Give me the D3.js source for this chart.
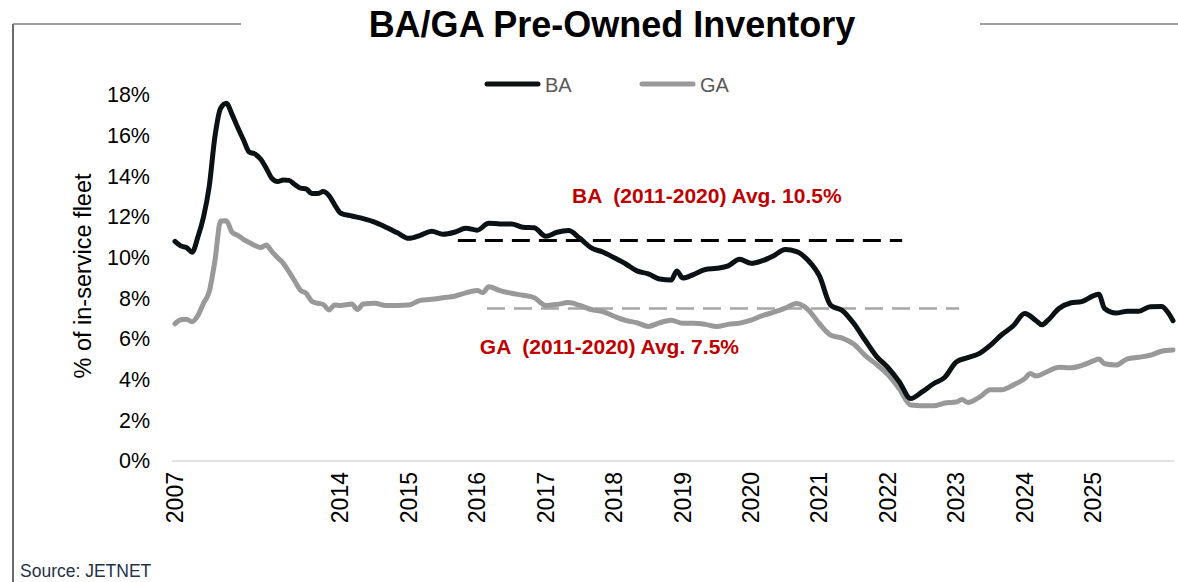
<!DOCTYPE html>
<html>
<head>
<meta charset="utf-8">
<script src="https://cdn.jsdelivr.net/npm/d3@7"></script>
<style>
  body { margin: 0; background: #fff; }
  svg { display: block; font-family: "Liberation Sans", Arial, sans-serif; }
</style>
</head>
<body>
<svg id="chart" width="1178" height="582"></svg>
<script>
// x is a category slot: 29 early points (2007-2013), then monthly from Jan 2014
const tickLabels = ["2007", "2014", "2015", "2016", "2017", "2018", "2019", "2020", "2021", "2022", "2023", "2024", "2025"];
const tickSlots = [0, 29, 41, 53, 65, 77, 89, 101, 113, 125, 137, 149, 161];
const yTicks = [0, 2, 4, 6, 8, 10, 12, 14, 16, 18];

const baSlots = [0,1,2,3,4,5,6,7,8,9,10,11,12,13,14,15,16,17,18,19,20,21,22,23,24,25,26,27,28,
  29,31,33,35,37,39,41,43,45,47,49,51,53,55,57,59,61,63,65,67,69,71,73,75,77,79,81,83,85,87,88,89,
  91,93,95,97,99,101,103,105,107,109,111,113,115,117,119,121,123,125,127,129,131,133,135,137,139,
  141,143,145,147,149,151,152,153,155,157,159,161,162,163,165,167,169,171,173,174,175];
const baValues = [10.8,10.58,10.5,10.27,11.0,12.0,13.5,15.95,17.35,17.6,17.05,16.4,15.8,15.2,15.1,14.85,14.4,13.9,13.74,13.82,13.8,13.6,13.42,13.38,13.15,13.15,13.25,13.05,12.6,
  12.2,12.05,11.92,11.75,11.5,11.22,10.95,11.1,11.3,11.15,11.25,11.45,11.35,11.69,11.66,11.66,11.5,11.47,11.05,11.25,11.33,10.95,10.48,10.28,10.0,9.7,9.35,9.2,8.95,8.9,9.35,9.0,
  9.18,9.42,9.48,9.6,9.92,9.72,9.85,10.1,10.4,10.3,9.87,9.1,7.65,7.4,6.77,5.95,5.15,4.6,3.9,3.07,3.4,3.8,4.12,4.87,5.08,
  5.28,5.7,6.22,6.65,7.25,6.9,6.7,6.9,7.5,7.77,7.84,8.12,8.2,7.5,7.28,7.37,7.37,7.59,7.6,7.35,6.9];

const gaSlots = [0,1,2,3,4,5,6,7,8,9,10,11,12,13,14,15,16,17,18,19,20,21,22,23,24,25,26,27,28,
  29,31,32,33,35,37,39,41,43,45,47,49,51,53,54,55,57,59,61,63,65,67,69,71,73,75,77,79,81,83,85,87,89,
  91,93,95,97,99,101,103,105,107,109,111,113,115,117,119,121,123,125,127,129,131,133,135,137,138,139,
  141,143,145,147,149,150,151,153,155,157,159,161,162,163,165,167,169,171,173,175];
const gaValues = [6.75,6.95,6.97,6.85,7.15,7.76,8.33,9.85,11.8,11.82,11.25,11.1,10.9,10.75,10.6,10.5,10.62,10.3,10.0,9.72,9.3,8.85,8.4,8.25,7.85,7.76,7.7,7.43,7.67,
  7.65,7.72,7.45,7.72,7.76,7.65,7.65,7.67,7.9,7.95,8.03,8.1,8.27,8.38,8.28,8.57,8.38,8.25,8.15,8.03,7.65,7.7,7.79,7.65,7.45,7.35,7.12,6.92,6.8,6.62,6.8,6.92,6.78,
  6.78,6.72,6.61,6.72,6.78,6.93,7.15,7.32,7.52,7.75,7.45,6.75,6.18,6.04,5.75,5.2,4.75,4.25,3.55,2.75,2.72,2.72,2.85,2.9,3.03,2.88,
  3.13,3.5,3.5,3.74,4.05,4.3,4.18,4.4,4.61,4.58,4.7,4.92,5.02,4.78,4.72,5.02,5.1,5.2,5.4,5.46];

// 2011-2020 average reference lines (as drawn)
const avgLines = [
  { name: "BA", value: 10.85, from: 49.6, to: 127.5, color: "#000000", width: 3, label: "BA  (2011-2020) Avg. 10.5%" },
  { name: "GA", value: 7.5, from: 54.7, to: 137.5, color: "#a6a6a6", width: 2.5, label: "GA  (2011-2020) Avg. 7.5%" }
];

const svg = d3.select("#chart");

const x = d3.scaleLinear().domain([0, 175]).range([175, 1173]);
const y = d3.scaleLinear().domain([0, 18]).range([461, 95]);

// frame lines
svg.append("line").attr("x1", 13).attr("x2", 13).attr("y1", 24).attr("y2", 582)
  .attr("stroke", "#3a3a3a").attr("stroke-width", 1.5);
svg.append("line").attr("x1", 13).attr("x2", 241).attr("y1", 24).attr("y2", 24)
  .attr("stroke", "#7f7f7f").attr("stroke-width", 1.5);
svg.append("line").attr("x1", 980).attr("x2", 1178).attr("y1", 24).attr("y2", 24)
  .attr("stroke", "#7f7f7f").attr("stroke-width", 1.5);

// title
svg.append("text").attr("x", 612).attr("y", 37).attr("text-anchor", "middle")
  .attr("font-size", 36).attr("font-weight", "bold").attr("fill", "#000")
  .text("BA/GA Pre-Owned Inventory");

// y axis labels
const yAxis = d3.axisLeft(y).tickValues(yTicks).tickSize(0).tickPadding(0).tickFormat(d => d + "%");
svg.append("g").attr("transform", "translate(150,0)").call(yAxis)
  .call(g => g.select(".domain").remove())
  .call(g => g.selectAll("text").attr("font-size", 21.5).attr("fill", "#000")
    .attr("font-family", "Liberation Sans, Arial, sans-serif"));

svg.append("text").attr("transform", "translate(91,276) rotate(-90)")
  .attr("text-anchor", "middle").attr("font-size", 23.5).attr("fill", "#000")
  .text("% of in-service fleet");

// x axis
svg.append("line").attr("x1", 172).attr("x2", 1174).attr("y1", y(0)).attr("y2", y(0))
  .attr("stroke", "#d9d9d9").attr("stroke-width", 1.5);

svg.append("g").selectAll("text").data(tickSlots).join("text")
  .attr("transform", d => `translate(${x(d) + 8},472) rotate(-90)`)
  .attr("text-anchor", "end").attr("font-size", 23).attr("fill", "#000")
  .text((d, i) => tickLabels[i]);

// average lines + labels
svg.append("g").selectAll("line").data(avgLines).join("line")
  .attr("x1", d => x(d.from)).attr("x2", d => x(d.to))
  .attr("y1", d => y(d.value)).attr("y2", d => y(d.value))
  .attr("stroke", d => d.color).attr("stroke-width", d => d.width)
  .attr("stroke-dasharray", "18,9");

svg.append("text").attr("x", 572).attr("y", 203).attr("font-size", 21).attr("font-weight", "bold")
  .attr("fill", "#c00000").style("white-space", "pre").text(avgLines[0].label);
svg.append("text").attr("x", 739).attr("y", 354).attr("text-anchor", "end").attr("font-size", 21)
  .attr("font-weight", "bold").attr("fill", "#c00000").style("white-space", "pre").text(avgLines[1].label);

// series
const line = d3.line().x(d => x(d[0])).y(d => y(d[1])).curve(d3.curveMonotoneX);
const series = [
  { name: "GA", color: "#999999", pts: d3.zip(gaSlots, gaValues) },
  { name: "BA", color: "#0b1215", pts: d3.zip(baSlots, baValues) }
];
svg.append("g").selectAll("path").data(series).join("path")
  .attr("d", d => line(d.pts))
  .attr("fill", "none").attr("stroke", d => d.color).attr("stroke-width", 5)
  .attr("stroke-linejoin", "round").attr("stroke-linecap", "round");

// legend
const legend = [
  { name: "BA", color: "#0b1215", x: 485 },
  { name: "GA", color: "#999999", x: 640 }
];
const lg = svg.append("g").selectAll("g").data(legend).join("g");
lg.append("line").attr("x1", d => d.x + 2).attr("x2", d => d.x + 53).attr("y1", 84).attr("y2", 84)
  .attr("stroke", d => d.color).attr("stroke-width", 5).attr("stroke-linecap", "round");
lg.append("text").attr("x", d => d.x + 60).attr("y", 92).attr("font-size", 20).attr("fill", "#595959")
  .text(d => d.name);

// source
svg.append("text").attr("x", 20).attr("y", 577).attr("font-size", 17.5).attr("fill", "#26324a")
  .text("Source: JETNET");
</script>
</body>
</html>
